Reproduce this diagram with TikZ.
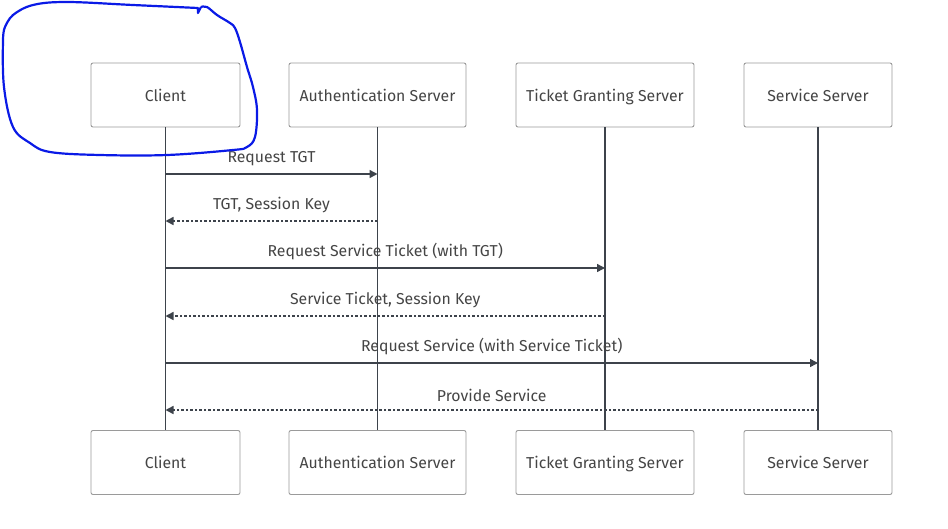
\documentclass[tikz,border=0pt]{standalone}
\usepackage{fontspec}
\setmainfont{Fira Sans}
\usepackage{tikz}
\usetikzlibrary{arrows.meta}
\usepackage{xcolor}
\definecolor{lifegray}{HTML}{3D434B}
\definecolor{boxgray}{HTML}{9A9A9A}
\definecolor{txtgray}{HTML}{454545}
\definecolor{penblue}{HTML}{0A1AE6}

\begin{document}
\begin{tikzpicture}[x=1pt,y=-1pt,
    actor/.style={draw=boxgray,fill=white,rounded corners=2pt,line width=0.9pt,
      minimum height=64pt,text height=13pt,text depth=1pt,text=txtgray,
      font=\fontsize{15.8}{18}\selectfont},
    life/.style={lifegray,line width=1.6pt},
    msg/.style={lifegray,line width=1.5pt,-{Triangle[length=8pt,width=8pt]}},
    reply/.style={msg,dash pattern=on 2.5pt off 2pt},
    lbl/.style={text=txtgray,font=\fontsize{15.8}{18}\selectfont,above=4pt}]
      \useasboundingbox (0,0) rectangle (948,528);
      % participants, top and bottom
      \node[actor,minimum width=149pt] (cl) at (165.5,95) {Client};
      \node[actor,minimum width=177pt] (as) at (377.5,95) {Authentication Server};
      \node[actor,minimum width=178pt] (tgs) at (605,95) {Ticket Granting Server};
      \node[actor,minimum width=148pt] (ss) at (818,95) {Service Server};
      \node[actor,minimum width=149pt] (clb) at (165.5,462.5) {Client};
      \node[actor,minimum width=177pt] (asb) at (377.5,462.5) {Authentication Server};
      \node[actor,minimum width=178pt] (tgsb) at (605,462.5) {Ticket Granting Server};
      \node[actor,minimum width=148pt] (ssb) at (818,462.5) {Service Server};
      % lifelines
      \draw[life] (cl) -- (clb);
      \draw[life] (as) -- (asb);
      \draw[life] (tgs) -- (tgsb);
      \draw[life] (ss) -- (ssb);
      % messages
      \draw[msg] (cl |- 0,174) -- node[lbl] {Request TGT} (as |- 0,174);
      \draw[reply] (as |- 0,221) -- node[lbl] {TGT, Session Key} (cl |- 0,221);
      \draw[msg] (cl |- 0,268) -- node[lbl] {Request Service Ticket (with TGT)} (tgs |- 0,268);
      \draw[reply] (tgs |- 0,316) -- node[lbl] {Service Ticket, Session Key} (cl |- 0,316);
      \draw[msg] (cl |- 0,363) -- node[lbl] {Request Service (with Service Ticket)} (ss |- 0,363);
      \draw[reply] (ss |- 0,410) -- node[lbl] {Provide Service} (cl |- 0,410);
      % hand drawn mark round the client
      \draw[penblue,line width=2.2pt,line join=round]
        plot[smooth,tension=0.6] coordinates {(5,27) (13,15) (33,5) (67,2) (133,5) (198,8)}
        -- (198,13) -- (201,7)
        plot[smooth,tension=0.6] coordinates {(201,7) (207,7) (217,15) (230,23) (235,28)
          (240,42) (247,67) (253,87) (257,110) (255,137) (247,147) (233,150) (167,155)
          (100,155) (50,152) (30,143) (13,127) (4,87) (3,40) (5,27)};
    \end{tikzpicture}
\end{document}
